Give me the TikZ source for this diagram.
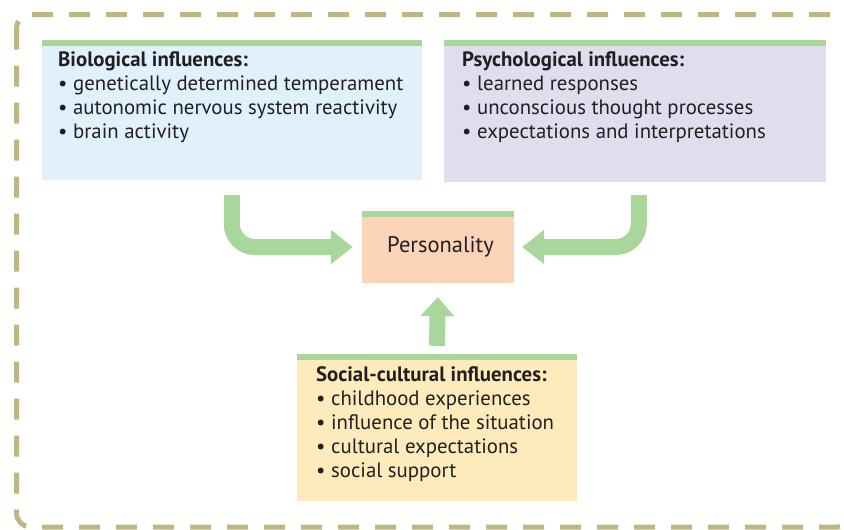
\documentclass[tikz,border=0pt]{standalone}
\usepackage{fontspec}
\setmainfont{PT Sans}
\usetikzlibrary{arrows.meta,calc}
\definecolor{barcol}{RGB}{169,214,155}
\definecolor{bluefill}{RGB}{224,241,251}
\definecolor{purplefill}{RGB}{224,221,238}
\definecolor{peachfill}{RGB}{252,212,186}
\definecolor{yellowfill}{RGB}{253,235,188}
\definecolor{framecol}{RGB}{190,183,132}
\definecolor{textcol}{RGB}{35,31,32}
\begin{document}
\begin{tikzpicture}[x=1pt,y=-1pt,
  box/.style={rectangle, inner sep=0pt, draw=none,
    path picture={\fill[barcol] (path picture bounding box.north west) rectangle ([yshift=-6pt]path picture bounding box.north east);}},
  boxtext/.style={anchor=north west, inner sep=0pt, align=left, text=textcol,
    font=\fontsize{20.8}{24}\selectfont},
  bigarrow/.style={draw=barcol, line width=16pt, rounded corners=23pt,
    -{Triangle[length=22pt,width=33pt]}},
  frame/.style={draw=framecol, line width=5pt, rounded corners=14pt, dash pattern=on 21pt off 16pt}
]
\useasboundingbox (0,0) rectangle (844,530);
\draw[frame] (16.5,14.5) rectangle (852,527);

\node[box, fill=bluefill, minimum width=380pt, minimum height=140pt] (bio) at (232,110) {};
\node[box, fill=purplefill, minimum width=382pt, minimum height=142pt] (psych) at (635,111) {};
\node[box, fill=peachfill, minimum width=152pt, minimum height=72pt, text=textcol,
  font=\fontsize{22.5}{24}\selectfont] (pers) at (438,247) {\hspace{5pt}Personality};
\node[box, fill=yellowfill, minimum width=280pt, minimum height=147pt] (social) at (437,427.5) {};

\node[boxtext] (biotext) at (58,51) {\textbf{Biological influences:}\\
• genetically determined temperament\\
• autonomic nervous system reactivity\\
• brain activity};
\node[boxtext] (psychtext) at (462,51) {\textbf{Psychological influences:}\\
• learned responses\\
• unconscious thought processes\\
• expectations and interpretations};
\node[boxtext] (socialtext) at (316,366) {\textbf{Social-cultural influences:}\\
• childhood experiences\\
• influence of the situation\\
• cultural expectations\\
• social support};

\draw[bigarrow, shorten >=9pt] ($(bio.south west)+(190,15)$) |- (pers.west);
\draw[bigarrow, shorten >=8pt] ($(psych.south west)+(195,13)$) |- (pers.east);
\draw[bigarrow, shorten >=14pt, -{Triangle[length=19pt,width=33pt]}] ($(social.north)+(0,-8)$) -- (pers.south);
\end{tikzpicture}
\end{document}
